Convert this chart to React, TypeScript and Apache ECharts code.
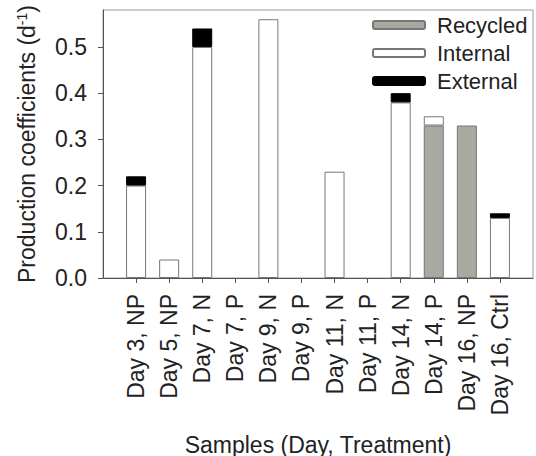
import React, { useEffect, useRef } from "react";
import * as echarts from "echarts";

const categories = [
  "Day 3, NP", "Day 5, NP", "Day 7, N", "Day 7, P", "Day 9, N", "Day 9, P",
  "Day 11, N", "Day 11, P", "Day 14, N", "Day 14, P", "Day 16, NP", "Day 16, Ctrl",
];
const recycled = [null, null, null, null, null, null, null, null, null, 0.33, 0.33, null];
const internal = [0.2, 0.04, 0.5, null, 0.56, null, 0.23, null, 0.38, 0.02, null, 0.13];
const external = [0.02, null, 0.04, null, null, null, null, null, 0.02, null, null, 0.01];
const yTicks = [0, 0.1, 0.2, 0.3, 0.4, 0.5];

const FONT = "'Liberation Sans', Arial, sans-serif";

export default function App() {
  const ref = useRef<HTMLDivElement>(null);
  useEffect(() => {
    if (!ref.current) return;
    const chart = echarts.init(ref.current, null, { renderer: "svg" });
    const pad = (arr: (number | null)[]) => ["-", ...arr.map((v) => (v == null ? "-" : v)), "-"];
    const axisCats = ["", ...categories, ""];
    const n = axisCats.length;
    chart.setOption({
      animation: false,
      textStyle: { fontFamily: FONT, color: "#222" },
      grid: {
        left: 103, right: 3, top: 10, bottom: 178,
        outerBoundsMode: "none",
        containLabel: false,
        show: true, borderColor: "#999", borderWidth: 1, backgroundColor: "transparent",
      },
      legend: {
        orient: "vertical",
        left: 372,
        top: 14,
        padding: 0,
        itemWidth: 52,
        itemHeight: 8,
        itemGap: 6,
        selectedMode: false,
        textStyle: { fontSize: 22, fontFamily: FONT, color: "#222", lineHeight: 22, padding: [0, 0, 0, 7] },
        data: ["Recycled", "Internal", "External"],
      },
      xAxis: {
        type: "category",
        data: axisCats,
        boundaryGap: false,
        axisLine: { lineStyle: { color: "#555", width: 1 } },
        axisTick: {
          length: 5,
          interval: (i: number) => i > 0 && i < n - 1,
          lineStyle: { color: "#555" },
        },
        axisLabel: {
          rotate: 90,
          interval: 0,
          margin: 16,
          fontSize: 23,
          fontFamily: FONT,
          color: "#222",
        },
        splitLine: { show: false },
        name: "Samples (Day, Treatment)",
        nameLocation: "middle",
        nameGap: 155,
        nameTextStyle: { fontSize: 23, fontFamily: FONT, color: "#222", verticalAlign: "top" },
      },
      yAxis: {
        type: "value",
        min: 0,
        max: 0.58,
        axisLine: { show: true, lineStyle: { color: "#555", width: 1 } },
        axisTick: { show: true, length: 5, customValues: yTicks, lineStyle: { color: "#555" } },
        axisLabel: {
          customValues: yTicks,
          margin: 16,
          fontSize: 23,
          fontFamily: FONT,
          color: "#222",
          formatter: (v: number) => v.toFixed(1),
        },
        splitLine: { show: false },
        name: "Production coefficients (d{sup|-1})",
        nameLocation: "middle",
        nameGap: 65,
        nameTextStyle: {
          fontSize: 23,
          fontFamily: FONT,
          color: "#222",
          rich: { sup: { fontSize: 14, verticalAlign: "top", fontFamily: FONT, color: "#222" } },
        },
      },
      series: [
        {
          name: "Recycled",
          type: "bar",
          stack: "s",
          barWidth: 20,
          data: pad(recycled),
          itemStyle: { color: "#a8a9a1", borderColor: "#777", borderWidth: 1 },
        },
        {
          name: "Internal",
          type: "bar",
          stack: "s",
          barWidth: 20,
          data: pad(internal),
          itemStyle: { color: "#ffffff", borderColor: "#777", borderWidth: 1 },
        },
        {
          name: "External",
          type: "bar",
          stack: "s",
          barWidth: 20,
          data: pad(external),
          itemStyle: { color: "#000000", borderColor: "#000", borderWidth: 1 },
        },
      ],
    });
    return () => chart.dispose();
  }, []);
  return <div ref={ref} style={{ width: 536, height: 456, position: "absolute", left: 0, top: 0 }} />;
}
